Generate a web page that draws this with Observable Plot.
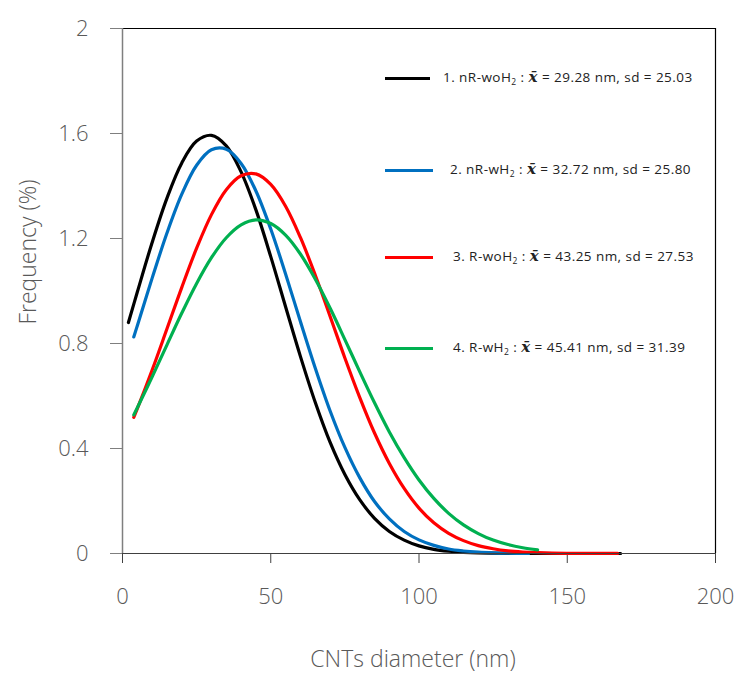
<!DOCTYPE html>
<html>
<head>
<meta charset="utf-8">
<script src="https://cdn.jsdelivr.net/npm/d3@7"></script>
<script src="https://cdn.jsdelivr.net/npm/@observablehq/plot@0.6"></script>
<style>
  body { margin: 0; background: #fff; }
  #wrap { position: relative; width: 741px; height: 673px; font-family: "Open Sans", "Noto Sans", sans-serif; }
  .leg { position: absolute; font-family: "Open Sans", "Noto Sans", sans-serif; font-size: 13.5px; letter-spacing: 0.45px; color: #222; white-space: nowrap; line-height: 16px; }
  .leg sub { font-size: 8.5px; vertical-align: -3px; }
  .leg i { font-family: "DejaVu Serif", serif; font-weight: bold; font-size: 15px; }
  .legline { position: absolute; height: 3px; }
</style>
</head>
<body>
<div id="wrap"></div>
<script>
// Series names / labels
const seriesNames = ["nR-woH2", "nR-wH2", "R-woH2", "R-wH2"];
const seriesColors = ["#000000", "#0070C0", "#FF0000", "#00B050"];
const legendPrefix = ["1. nR-woH", "2. nR-wH", "3. R-woH", "4. R-wH"];
const legendMean = ["29.28", "32.72", "43.25", "45.41"];
const legendSd = ["25.03", "25.80", "27.53", "31.39"];

// Curve values: diameter (nm) and frequency (%)
const x1 = [2, 5, 10, 15, 20, 25, 30, 35, 40, 45, 50, 55, 60, 65, 70, 75, 80, 85, 90, 95, 100, 105, 110, 115, 120, 130, 140, 150, 160, 168];
const y1 = [0.880, 0.996, 1.185, 1.354, 1.488, 1.571, 1.593, 1.553, 1.454, 1.309, 1.131, 0.940, 0.751, 0.576, 0.424, 0.301, 0.205, 0.134, 0.084, 0.051, 0.029, 0.016, 0.0088, 0.0045, 0.0022, 0.0005, 0.0001, 0, 0, 0];

const x2 = [3.8, 5, 10, 15, 20, 25, 30, 35, 40, 45, 50, 55, 60, 65, 70, 75, 80, 85, 90, 95, 100, 105, 110, 115, 120, 125, 130, 137];
const y2 = [0.825, 0.868, 1.049, 1.221, 1.369, 1.479, 1.538, 1.540, 1.486, 1.381, 1.236, 1.065, 0.884, 0.707, 0.544, 0.404, 0.289, 0.198, 0.132, 0.084, 0.052, 0.031, 0.017, 0.0096, 0.0051, 0.0026, 0.0013, 0.0004];

const x3 = [3.8, 5, 10, 15, 20, 25, 30, 35, 40, 45, 50, 55, 60, 65, 70, 75, 80, 85, 90, 95, 100, 105, 110, 115, 120, 125, 130, 135, 140, 145, 150, 155, 160, 167];
const y3 = [0.519, 0.552, 0.699, 0.856, 1.014, 1.163, 1.291, 1.386, 1.439, 1.446, 1.406, 1.323, 1.204, 1.061, 0.904, 0.745, 0.595, 0.459, 0.343, 0.248, 0.173, 0.117, 0.077, 0.049, 0.030, 0.018, 0.010, 0.0056, 0.0030, 0.0016, 0.0008, 0.0004, 0.0002, 0.0001];

const x4 = [3.8, 5, 10, 15, 20, 25, 30, 35, 40, 45, 50, 55, 60, 65, 70, 75, 80, 85, 90, 95, 100, 105, 110, 115, 120, 125, 130, 135, 140];
const y4 = [0.528, 0.555, 0.673, 0.795, 0.916, 1.029, 1.127, 1.203, 1.252, 1.271, 1.257, 1.213, 1.141, 1.046, 0.935, 0.815, 0.693, 0.574, 0.463, 0.365, 0.280, 0.210, 0.153, 0.109, 0.076, 0.051, 0.034, 0.022, 0.014];

// Tick values
const xTicks = [0, 50, 100, 150, 200];
const yTicks = [0, 0.4, 0.8, 1.2, 1.6, 2];

const xsAll = [x1, x2, x3, x4];
const ysAll = [y1, y2, y3, y4];
const rows = [];
xsAll.forEach((xs, i) => xs.forEach((x, j) => rows.push({series: seriesNames[i], x, y: ysAll[i][j]})));

const gray = "#595959";
const plot = Plot.plot({
  width: 741,
  height: 673,
  marginLeft: 122,
  marginRight: 26,
  marginTop: 28,
  marginBottom: 120,
  style: { fontFamily: "'Open Sans', 'Noto Sans', sans-serif", fontSize: "22px", color: gray, background: "#fff", overflow: "visible" },
  x: { domain: [0, 200], ticks: xTicks, label: null },
  y: { domain: [0, 2], ticks: yTicks, label: null },
  color: { domain: seriesNames, range: seriesColors },
  marks: [
    Plot.ruleY([2], { stroke: "#000", strokeWidth: 1.2 }),
    Plot.ruleX([200], { stroke: "#000", strokeWidth: 1.2 }),
    Plot.axisY({ ticks: yTicks, tickSize: 12, tickPadding: 22, tickFormat: d => String(d), stroke: "#7f7f7f", fontWeight: 300, fill: gray }),
    Plot.axisX({ ticks: xTicks, tickSize: 10, tickPadding: 25, tickFormat: d => String(d), stroke: "#404040", fontWeight: 300, fill: gray }),
    Plot.line(rows, { x: "x", y: "y", z: "series", stroke: "series", strokeWidth: 3.2, curve: "catmull-rom" }),
    Plot.ruleX([0], { stroke: "#7f7f7f", strokeWidth: 1.5, y1: 0, y2: 2 }),
    Plot.ruleY([0], { stroke: "#404040", strokeWidth: 1.2, x1: 0, x2: 200 })
  ]
});

const wrap = document.getElementById("wrap");
wrap.appendChild(plot);

// Axis titles
const svg = d3.select(plot);
svg.append("text")
  .attr("transform", "translate(36,252) rotate(-90)")
  .attr("text-anchor", "middle")
  .attr("font-size", 23).attr("font-weight", 300)
  .attr("fill", gray)
  .text("Frequency (%)");
svg.append("text")
  .attr("x", 413).attr("y", 667)
  .attr("text-anchor", "middle")
  .attr("font-size", 23).attr("font-weight", 300)
  .attr("fill", gray)
  .text("CNTs diameter (nm)");

// Legend (HTML overlay)
const legY = [78, 170, 257, 348];
const legTextX = [443, 450, 453, 453];
seriesNames.forEach((s, i) => {
  const ln = document.createElement("div");
  ln.className = "legline";
  ln.style.left = "385px";
  ln.style.width = (i === 0 ? 45 : 48) + "px";
  ln.style.top = (legY[i] - 1.5) + "px";
  ln.style.background = seriesColors[i];
  wrap.appendChild(ln);
  const t = document.createElement("div");
  t.className = "leg";
  t.style.left = legTextX[i] + "px";
  t.style.top = (legY[i] - 9) + "px";
  t.innerHTML = `${legendPrefix[i]}<sub>2</sub> : <i>x&#772;</i> = ${legendMean[i]} nm, sd = ${legendSd[i]}`;
  wrap.appendChild(t);
});
</script>
</body>
</html>
